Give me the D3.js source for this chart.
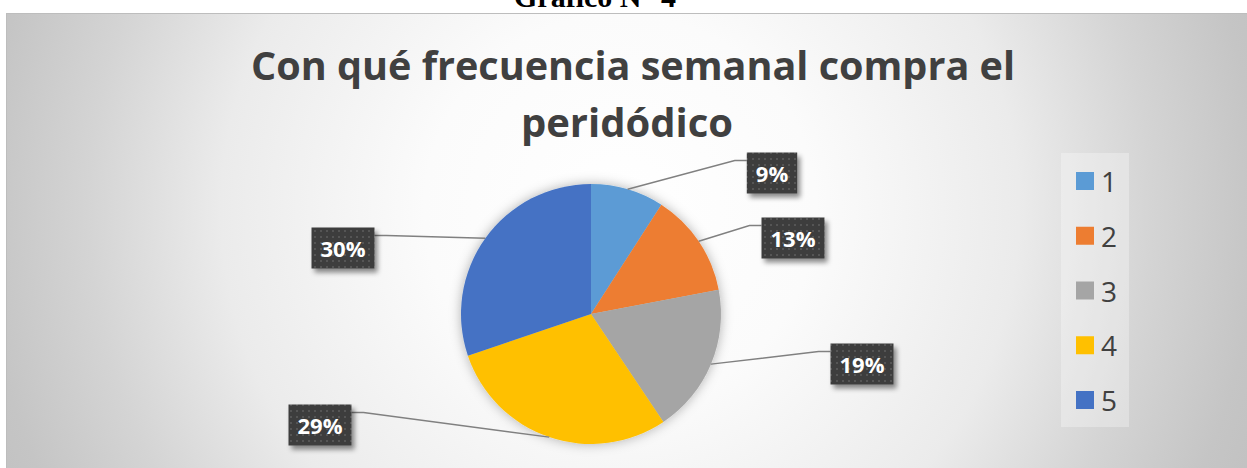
<!DOCTYPE html>
<html>
<head>
<meta charset="utf-8">
<script src="https://cdn.jsdelivr.net/npm/d3@7"></script>
<style>
  html, body { margin: 0; padding: 0; background: #fff; overflow: hidden; }
  svg { display: block; }
</style>
</head>
<body>
<svg id="chart"></svg>
<script>
// Data
const categories = ['1', '2', '3', '4', '5'];
const values = [9.1, 12.9, 18.6, 29.2, 30.2];
const colors = ['#5B9BD5', '#ED7D31', '#A5A5A5', '#FFC000', '#4472C4'];
const titleLines = ['Con qué frecuencia semanal compra el', 'peridódico'];
const caption = 'Gráfico N° 4';

// Label box centres (layout)
const labelPos = [[772, 173], [793, 238], [862, 364], [320, 425], [343, 248]];

const width = 1247, height = 468;
const pctFormat = d3.format('.0%');
const total = d3.sum(values);

const svg = d3.select('#chart').attr('width', width).attr('height', height);
const defs = svg.append('defs');

// background gradient
const grad = defs.append('radialGradient')
    .attr('id', 'bg').attr('gradientUnits', 'userSpaceOnUse')
    .attr('cx', 620).attr('cy', 210).attr('r', 700);
[[0, '#ffffff'], [0.28, '#fbfbfb'], [0.57, '#ebebeb'], [0.76, '#d4d4d4'], [0.91, '#c5c5c5'], [1, '#c0c0c0']]
    .forEach(([o, c]) => grad.append('stop').attr('offset', o).attr('stop-color', c));

// dotted texture for data labels
const pat = defs.append('pattern')
    .attr('id', 'dots').attr('patternUnits', 'userSpaceOnUse')
    .attr('width', 6).attr('height', 6);
pat.append('rect').attr('width', 6).attr('height', 6).attr('fill', '#3c3c3c');
pat.append('rect').attr('x', 2).attr('y', 2).attr('width', 2).attr('height', 2).attr('fill', '#555');

const pieShadow = defs.append('filter').attr('id', 'pieShadow')
    .attr('x', '-20%').attr('y', '-20%').attr('width', '140%').attr('height', '140%');
pieShadow.append('feDropShadow').attr('dx', 0).attr('dy', 0).attr('stdDeviation', 6)
    .attr('flood-color', '#000').attr('flood-opacity', 0.3);

const boxShadow = defs.append('filter').attr('id', 'boxShadow')
    .attr('x', '-20%').attr('y', '-20%').attr('width', '150%').attr('height', '160%');
boxShadow.append('feDropShadow').attr('dx', 3).attr('dy', 4).attr('stdDeviation', 2.5)
    .attr('flood-color', '#000').attr('flood-opacity', 0.45);

// caption above the chart (cut off at page top)
svg.append('text')
    .attr('x', 595).attr('y', 7)
    .attr('text-anchor', 'middle')
    .attr('font-family', '"Liberation Serif", "Times New Roman", serif')
    .attr('font-weight', 'bold')
    .attr('font-size', 30)
    .attr('fill', '#000')
    .text(caption);

// chart area
svg.append('rect')
    .attr('x', 6.5).attr('y', 13.5)
    .attr('width', width).attr('height', height)
    .attr('fill', 'url(#bg)')
    .attr('stroke', '#bdbdbd').attr('stroke-width', 1);

// title
const titleWidths = [764, 219];
titleLines.forEach((t, i) => {
    const el = svg.append('text')
        .attr('x', i === 0 ? 633 : 627)
        .attr('y', 80 + i * 57)
        .attr('text-anchor', 'middle')
        .attr('font-family', '"Open Sans", "Noto Sans", sans-serif')
        .attr('font-weight', 'bold')
        .attr('font-size', 40)
        .attr('fill', '#404040')
        .text(t);
    const natural = el.node().getComputedTextLength();
    if (natural > titleWidths[i]) {
        el.attr('textLength', titleWidths[i]).attr('lengthAdjust', 'spacingAndGlyphs');
    }
});

// pie
const cx = 591, cy = 314, radius = 130;
const pie = d3.pie().sort(null).value(d => d);
const arcs = pie(values);
const arc = d3.arc().innerRadius(0).outerRadius(radius);

const pieG = svg.append('g').attr('transform', `translate(${cx},${cy})`);
pieG.append('g').attr('filter', 'url(#pieShadow)')
    .selectAll('path')
    .data(arcs)
    .join('path')
    .attr('d', arc)
    .attr('fill', (d, i) => colors[i]);

// leader lines + labels
const labelG = svg.append('g');
arcs.forEach((d, i) => {
    const mid = (d.startAngle + d.endAngle) / 2;
    const ex = cx + radius * Math.sin(mid);
    const ey = cy - radius * Math.cos(mid);
    const [bx, by] = labelPos[i];

    const txt = pctFormat(d.value / total);
    const t = labelG.append('text')
        .attr('x', bx).attr('y', by)
        .attr('text-anchor', 'middle')
        .attr('dominant-baseline', 'central')
        .attr('font-family', '"Open Sans", "Noto Sans", sans-serif')
        .attr('font-weight', 'bold')
        .attr('font-size', 22)
        .attr('fill', '#fff')
        .text(txt);
    const tw = t.node().getComputedTextLength();
    const bw = tw + 18, bh = 41;
    const left = bx - bw / 2, top = by - bh / 2;

    const onRight = bx > cx;
    const ax = onRight ? left : left + bw;
    const ay = top + 8;
    const elbowX = onRight ? ax - 12 : ax + 12;

    labelG.insert('path', 'text')
        .attr('d', `M${ex},${ey}L${elbowX},${ay}L${ax},${ay}`)
        .attr('fill', 'none')
        .attr('stroke', '#808080')
        .attr('stroke-width', 1.5);

    labelG.insert('rect', 'text')
        .attr('x', left).attr('y', top)
        .attr('width', bw).attr('height', bh)
        .attr('fill', 'url(#dots)')
        .attr('filter', 'url(#boxShadow)');
});
// keep texts on top of their boxes
labelG.selectAll('text').raise();

// legend
const legend = svg.append('g');
legend.append('rect')
    .attr('x', 1061).attr('y', 153)
    .attr('width', 68).attr('height', 274)
    .attr('fill', '#fff').attr('fill-opacity', 0.3);

const ly = d3.scalePoint().domain(categories).range([181, 400]);
const items = legend.selectAll('g.item')
    .data(categories)
    .join('g')
    .attr('class', 'item')
    .attr('transform', d => `translate(1076,${ly(d)})`);
items.append('rect')
    .attr('x', 0).attr('y', -9)
    .attr('width', 18).attr('height', 18)
    .attr('fill', (d, i) => colors[i]);
items.append('text')
    .attr('x', 25).attr('y', 0)
    .attr('dominant-baseline', 'central')
    .attr('font-family', '"Open Sans", "Noto Sans", sans-serif')
    .attr('font-size', 28)
    .attr('fill', '#404040')
    .text(d => d);
</script>
</body>
</html>
